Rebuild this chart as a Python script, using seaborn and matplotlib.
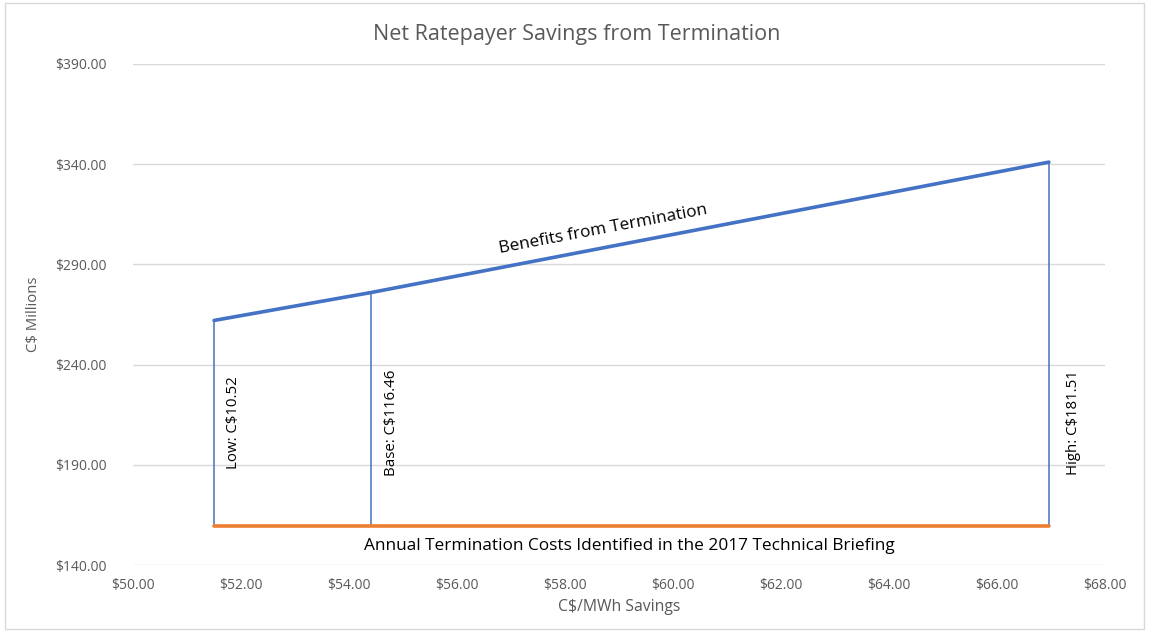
import matplotlib
matplotlib.use("Agg")
import matplotlib.pyplot as plt
import seaborn as sns
from matplotlib.ticker import FuncFormatter

# scenario points (C$/MWh savings) and benefits (C$ millions)
scenario_x = [51.5, 54.41, 66.96]
benefits = [262.02, 275.96, 341.01]
scenario_labels = ["Low: C$10.52", "Base: C$116.46", "High: C$181.51"]
termination_cost = 159.5

x_ticks = [50, 52, 54, 56, 58, 60, 62, 64, 66, 68]
y_ticks = [140, 190, 240, 290, 340, 390]

sns.set_theme(style="white")
plt.rcParams["font.family"] = ["Open Sans", "DejaVu Sans"]

fig = plt.figure(figsize=(11.49, 6.33), dpi=100)
ax = fig.add_axes([0.1158, 0.1074, 0.8459, 0.7916])

gray = "#595959"
blue = "#4472C4"
orange = "#ED7D31"

# vertical markers from the cost line up to benefits
ax.vlines(scenario_x, termination_cost, benefits, color=blue, linewidth=1.1, zorder=3)

sns.lineplot(x=scenario_x, y=benefits, ax=ax, color=blue, linewidth=2.6, zorder=4)
sns.lineplot(x=[scenario_x[0], scenario_x[-1]], y=[termination_cost, termination_cost],
             ax=ax, color=orange, linewidth=2.6, zorder=4)

ax.set_xlim(50, 68)
ax.set_ylim(140, 390)
ax.set_xticks(x_ticks)
ax.set_yticks(y_ticks)
ax.xaxis.set_major_formatter(FuncFormatter(lambda v, p: f"${v:.2f}"))
ax.yaxis.set_major_formatter(FuncFormatter(lambda v, p: f"${v:.2f}"))
ax.tick_params(axis="both", labelsize=10, colors=gray, length=0)
ax.tick_params(axis="y", pad=19)
ax.tick_params(axis="x", pad=9)
ax.grid(axis="y", color="#d9d9d9", linewidth=1)
for s in ax.spines.values():
    s.set_visible(False)

ax.set_xlabel("C$/MWh Savings", fontsize=11.3, color=gray, labelpad=5)
ax.set_ylabel("C$ Millions", fontsize=10.7, color=gray, labelpad=10)
fig.text(0.502, 0.946, "Net Ratepayer Savings from Termination", ha="center", va="center",
         fontsize=15.5, color=gray)

# scenario labels, rotated
offsets = [0.36, 0.38, 0.45]
for xv, lab, off in zip(scenario_x, scenario_labels, offsets):
    ax.text(xv + off, 211, lab, rotation=90, ha="center", va="center", fontsize=10.8, color="black")

ax.text(58.7, 307.5, "Benefits from Termination", rotation=10.7, ha="center", va="center",
        fontsize=12.3, color="black")
ax.text(59.2, 149.5, "Annual Termination Costs Identified in the 2017 Technical Briefing",
        ha="center", va="center", fontsize=12.4, color="black")

# chart area border
fig.patches.append(plt.Rectangle((0.004, 0.006), 0.992, 0.99, transform=fig.transFigure,
                                 fill=False, edgecolor="#d9d9d9", linewidth=1))

fig.savefig("out.png", dpi=100)
